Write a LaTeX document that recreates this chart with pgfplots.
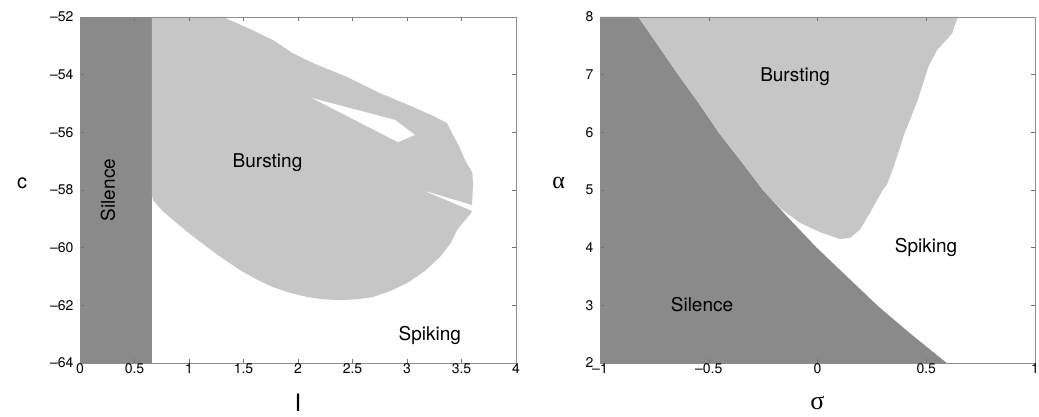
\documentclass[border=0pt]{standalone}
\usepackage{fontspec}
\setmainfont{TeX Gyre Heros}
\newfontfamily\grk{Liberation Serif}
\usepackage{pgfplots}
\pgfplotsset{compat=1.18}
\definecolor{darkreg}{HTML}{8A8A8A}
\definecolor{lightreg}{HTML}{C6C6C6}
\pgfplotsset{myax/.style={scale only axis, width=436pt, height=346pt,
  axis line style={black!45}, tick style={black!55, thin}, major tick length=4pt,
  tick align=inside, axis on top,
  /pgf/number format/assume math mode=true,
  tick label style={font=\fontsize{14}{16}\selectfont},
  xticklabel style={yshift=3pt}, yticklabel style={xshift=-3pt},
  label style={font=\fontsize{20}{22}\selectfont},
}}
\begin{document}
\begin{tikzpicture}[x=1pt,y=1pt]
\path[use as bounding box] (0,0) rectangle (1039,417);
% ---------------- panel a ----------------
\begin{axis}[myax, at={(80pt,54pt)}, anchor=south west,
  xmin=0, xmax=4, ymin=-64, ymax=-52,
  xtick={0,0.5,1,1.5,2,2.5,3,3.5,4},
  xticklabels={0,0.5,1,1.5,2,2.5,3,3.5,4},
  ytick={-64,-62,-60,-58,-56,-54,-52},
  yticklabels={–64,–62,–60,–58,–56,–54,–52},
  ylabel={c}, ylabel style={rotate=-90, at={(axis description cs:-0.133,0.52)}, anchor=center},
  xlabel={\fontsize{24}{26}\selectfont I}, xlabel style={at={(axis description cs:0.5,-0.116)}, anchor=center},
]
\addplot[fill=darkreg, draw=none] coordinates {(0,-64) (0.66,-64) (0.66,-52) (0,-52)} -- cycle;
\addplot[fill=lightreg, draw=none] coordinates {
 (0.66,-52) (1.312,-52) (1.55,-52.40) (1.771,-52.80) (1.95,-53.25) (2.138,-53.60) (2.450,-54.08) (2.752,-54.64)
 (3.055,-55.12) (3.25,-55.45) (3.367,-55.68) (3.422,-56.09) (3.48,-56.50) (3.532,-56.96) (3.60,-57.40) (3.606,-57.80)
 (3.596,-58.52) (3.138,-58.00) (3.596,-58.73) (3.578,-58.85) (3.52,-59.10) (3.459,-59.39) (3.40,-59.85)
 (3.303,-60.32) (3.16,-60.82) (3.0,-61.23) (2.85,-61.50) (2.688,-61.71) (2.54,-61.79) (2.385,-61.82)
 (2.23,-61.79) (2.083,-61.71) (1.93,-61.57) (1.771,-61.37) (1.62,-61.10) (1.468,-60.78) (1.32,-60.40)
 (1.165,-59.98) (1.0,-59.50) (0.853,-59.04) (0.75,-58.70) (0.67,-58.35) (0.66,-58.17)} -- cycle;
\addplot[fill=white, draw=none] coordinates {
 (2.128,-54.81) (2.890,-55.57) (3.073,-56.09) (2.917,-56.34)} -- cycle;
\node[font=\fontsize{19}{21}\selectfont] at (axis cs:1.72,-57.06) {Bursting};
\node[font=\fontsize{19}{21}\selectfont] at (axis cs:3.21,-63.03) {Spiking};
\node[font=\fontsize{19}{21}\selectfont, rotate=90] at (axis cs:0.257,-58.0) {Silence};
\node[font=\fontsize{31}{33}\selectfont, anchor=center] at (axis description cs:-0.14,0.985) {a};
\end{axis}
% ---------------- panel b ----------------
\begin{axis}[myax, width=435pt, at={(600pt,54pt)}, anchor=south west,
  xmin=-1, xmax=1, ymin=2, ymax=8,
  xtick={-1,-0.5,0,0.5,1},
  xticklabels={–1,–0.5,0,0.5,1},
  ytick={2,3,4,5,6,7,8},
  yticklabels={2,3,4,5,6,7,8},
  ylabel={\grk\fontsize{24}{26}\selectfont α}, ylabel style={rotate=-90, at={(axis description cs:-0.095,0.52)}, anchor=center},
  xlabel={\grk\fontsize{26}{28}\selectfont σ}, xlabel style={at={(axis description cs:0.5,-0.115)}, anchor=center},
]
\addplot[fill=darkreg, draw=none] coordinates {
 (-1,2) (-1,8) (-0.824,8) (-0.732,7.5) (-0.635,6.97) (-0.545,6.5) (-0.451,5.98) (-0.352,5.5)
 (-0.249,4.99) (-0.13,4.5) (-0.004,4.0) (0.135,3.5) (0.280,2.98) (0.43,2.5) (0.594,2.0)} -- cycle;
\addplot[fill=lightreg, draw=none] coordinates {
 (-0.824,8) (-0.732,7.5) (-0.635,6.97) (-0.545,6.5) (-0.451,5.98) (-0.352,5.5) (-0.249,4.99) (-0.17,4.68)
 (-0.08,4.43) (0.011,4.27) (0.103,4.15) (0.149,4.17) (0.195,4.31) (0.241,4.6)
 (0.30,5.0) (0.32,5.1) (0.35,5.4) (0.40,5.98) (0.46,6.55) (0.51,7.14) (0.55,7.43)
 (0.58,7.55) (0.62,7.72) (0.63,7.85) (0.646,8)} -- cycle;
\node[font=\fontsize{19}{21}\selectfont] at (axis cs:-0.103,6.96) {Bursting};
\node[font=\fontsize{19}{21}\selectfont] at (axis cs:0.499,4.0) {Spiking};
\node[font=\fontsize{19}{21}\selectfont] at (axis cs:-0.531,3.01) {Silence};
\node[font=\fontsize{31}{33}\selectfont, anchor=center] at (axis description cs:-0.122,0.985) {b};
\end{axis}
\end{tikzpicture}
\end{document}
